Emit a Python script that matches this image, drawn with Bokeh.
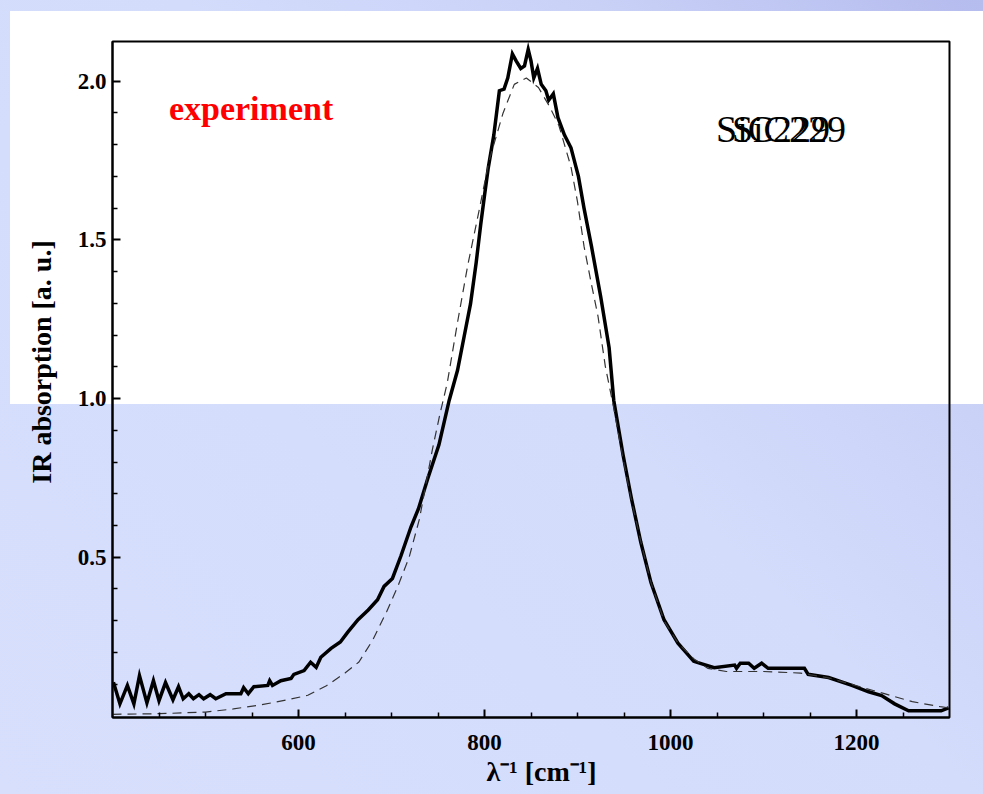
from bokeh.plotting import figure
from bokeh.models import FixedTicker, Label, Range1d, PrintfTickFormatter
from bokeh.embed import file_html
from bokeh.resources import INLINE

# ---- data ----
exp_x = [401, 408, 416, 423, 429, 437, 444, 450, 457, 465, 471, 476, 482, 487, 493, 498,
         505, 511, 522, 538, 541, 546, 552, 567, 569, 572, 581, 592, 595, 606, 613, 619,
         624, 635, 645, 653, 664, 675, 685, 692, 701, 710, 721, 729, 739, 751, 762, 771,
         778, 785, 791, 796, 800, 804, 810, 816, 821, 825, 830, 834, 839, 843, 847, 850,
         853, 857, 861, 866, 869, 874, 879, 886, 893, 901, 907, 915, 925, 934, 939, 949,
         958, 968, 979, 993, 1008, 1025, 1047, 1069, 1071, 1075, 1084, 1090, 1098, 1105,
         1144, 1148, 1170, 1195, 1213, 1227, 1241, 1256, 1291, 1299]
exp_y = [0.106, 0.038, 0.096, 0.038, 0.127, 0.041, 0.111, 0.048, 0.105, 0.051, 0.092, 0.054,
         0.070, 0.054, 0.067, 0.054, 0.067, 0.054, 0.070, 0.070, 0.089, 0.070, 0.092, 0.096,
         0.111, 0.096, 0.111, 0.118, 0.131, 0.143, 0.169, 0.153, 0.185, 0.213, 0.233, 0.264,
         0.303, 0.334, 0.366, 0.408, 0.433, 0.503, 0.596, 0.653, 0.748, 0.854, 0.994, 1.089,
         1.194, 1.299, 1.427, 1.550, 1.640, 1.726, 1.830, 1.970, 1.975, 2.010, 2.086, 2.064,
         2.040, 2.048, 2.100, 2.064, 2.010, 2.040, 1.990, 1.970, 1.940, 1.960, 1.885, 1.830,
         1.790, 1.700, 1.600, 1.480, 1.320, 1.160, 0.994, 0.822, 0.685, 0.548, 0.420, 0.303,
         0.229, 0.172, 0.152, 0.160, 0.150, 0.166, 0.166, 0.150, 0.166, 0.150, 0.150, 0.131,
         0.121, 0.096, 0.076, 0.064, 0.038, 0.016, 0.016, 0.025]

fit_x = [400, 450, 500, 530, 560, 590, 610, 630, 650, 665, 680, 695, 707, 719, 730, 744,
         752, 760, 771, 782, 794, 805, 820, 832, 845, 858, 870, 880, 893, 900, 907, 915,
         922, 930, 939, 949, 958, 968, 979, 993, 1008, 1025, 1040, 1060, 1100, 1140, 1170,
         1200, 1230, 1260, 1290, 1300]
fit_y = [0.005, 0.007, 0.012, 0.022, 0.035, 0.052, 0.065, 0.095, 0.135, 0.170, 0.240, 0.330,
         0.410, 0.500, 0.620, 0.840, 0.950, 1.050, 1.240, 1.420, 1.590, 1.750, 1.900, 1.990,
         2.010, 1.980, 1.920, 1.860, 1.730, 1.620, 1.480, 1.360, 1.260, 1.100, 0.970, 0.810,
         0.680, 0.550, 0.420, 0.300, 0.230, 0.180, 0.150, 0.140, 0.140, 0.135, 0.120, 0.095,
         0.070, 0.045, 0.029, 0.025]

x_major = [600, 800, 1000, 1200]
x_minor = [450, 500, 550, 650, 700, 750, 850, 900, 950, 1050, 1100, 1150, 1250]
y_major = [0.5, 1.0, 1.5, 2.0]
y_minor = [0.1, 0.2, 0.3, 0.4, 0.6, 0.7, 0.8, 0.9, 1.1, 1.2, 1.3, 1.4, 1.6, 1.7, 1.8, 1.9]

SERIF = "Liberation Serif"

p = figure(width=983, height=794, output_backend="svg", toolbar_location=None,
           x_range=Range1d(400, 1300), y_range=Range1d(-0.005, 2.125),
           min_border_left=112, min_border_right=34, min_border_top=41, min_border_bottom=77,
           background_fill_color=None, border_fill_color=None)
p.styles = {
    "background": "linear-gradient(#ffffff, #ffffff) 10px 11px / 973px 393px no-repeat, "
                  "linear-gradient(225deg, #b5bcee 0%, #c9d1f7 22%, #d4dcfc 45%, #d7dffd 100%)",
}
p.grid.visible = False
p.outline_line_color = "black"
p.outline_line_width = 2

p.line(exp_x, exp_y, line_color="black", line_width=3.5, line_join="miter")
p.line(fit_x, fit_y, line_color="#333333", line_width=1.2, line_dash="9 6")

for ax in (p.xaxis[0], p.yaxis[0]):
    ax.axis_line_color = "black"
    ax.axis_line_width = 2
    ax.major_tick_line_width = 2
    ax.minor_tick_line_width = 1.5
    ax.major_tick_in = 8
    ax.major_tick_out = 0
    ax.minor_tick_in = 5
    ax.minor_tick_out = 0
    ax.major_label_text_font = SERIF
    ax.major_label_text_font_style = "bold"
    ax.major_label_text_font_size = "23px"
    ax.major_label_text_color = "black"
    ax.axis_label_text_font = SERIF
    ax.axis_label_text_font_style = "bold"
    ax.axis_label_text_color = "black"

p.xaxis.ticker = FixedTicker(ticks=x_major, minor_ticks=x_minor)
p.yaxis.ticker = FixedTicker(ticks=y_major, minor_ticks=y_minor)
p.yaxis.formatter = PrintfTickFormatter(format="%.1f")
p.xaxis.major_label_standoff = 17
p.yaxis.major_label_standoff = 6
p.xaxis.axis_label = "\u00a0" * 3 + "\u03bb\u207b\u00b9 [cm\u207b\u00b9]"
p.xaxis.axis_label_text_font_size = "28px"
p.xaxis.axis_label_standoff = 3
p.yaxis.axis_label = "\u00a0" * 5 + "IR absorption [a. u.]"
p.yaxis.axis_label_text_font_size = "28px"
p.yaxis.axis_label_standoff = 18

p.add_layout(Label(x=549, y=1.915, text="experiment", text_color="red",
                   text_font=SERIF, text_font_style="bold", text_font_size="34px",
                   text_align="center", text_baseline="middle"))
for xo in (1049, 1066):
    p.add_layout(Label(x=xo, y=1.85, text="SiC229", text_color="black",
                       text_font=SERIF, text_font_size="38px",
                       text_align="left", text_baseline="middle"))

open("out.html", "w").write(file_html(p, INLINE))
